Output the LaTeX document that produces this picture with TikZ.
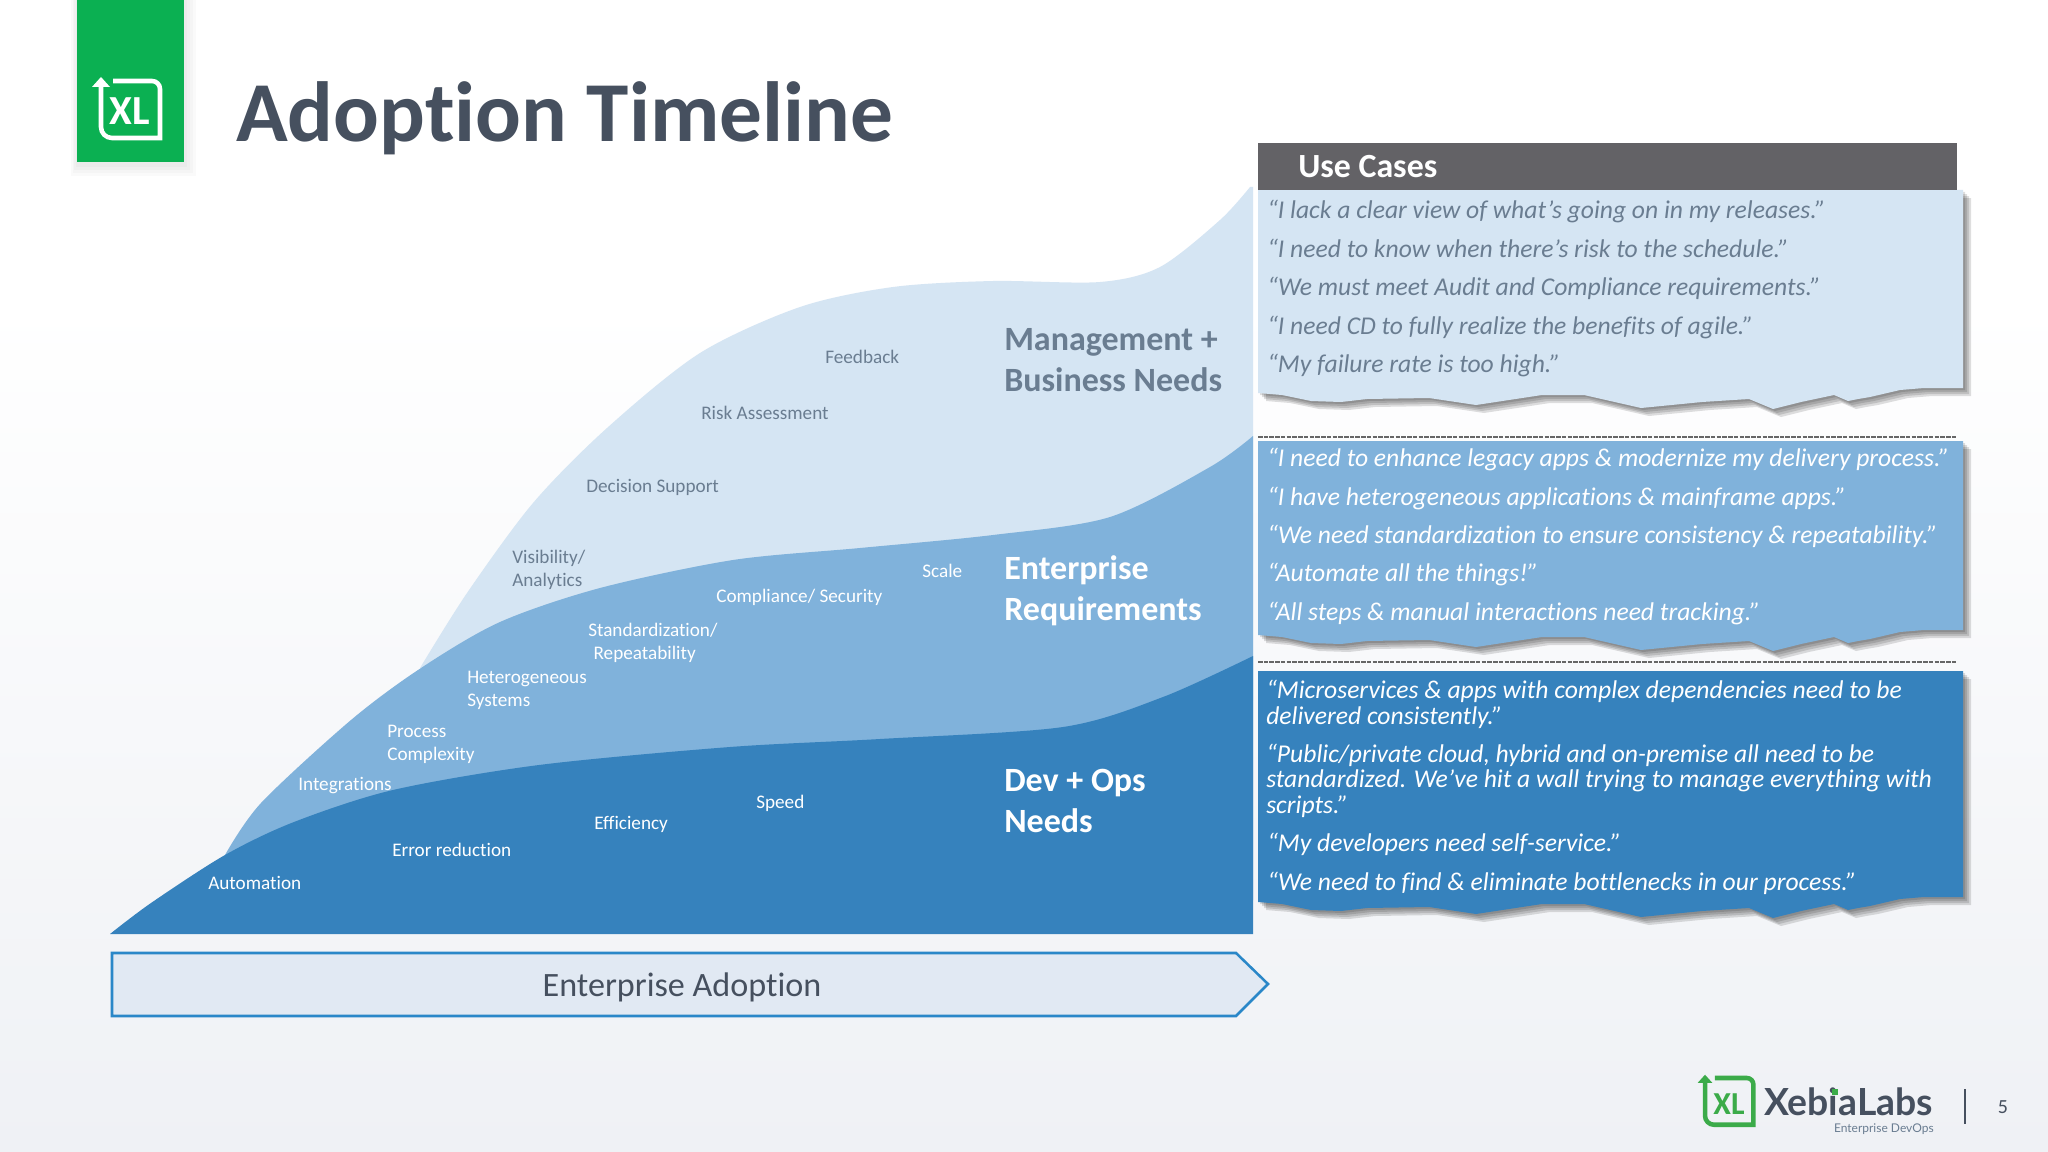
\documentclass[tikz,border=0pt]{standalone}
\usepackage{fontspec}
\setmainfont[Ligatures=NoCommon]{Carlito}
\newfontfamily\logofont{Lato}
\definecolor{lightblue}{HTML}{D5E5F3}
\definecolor{midblue}{HTML}{80B2DB}
\definecolor{darkblue}{HTML}{3682BD}
\definecolor{slatetext}{HTML}{46505F}
\definecolor{greytext}{HTML}{6A7D91}
\definecolor{headgrey}{HTML}{636266}
\definecolor{xlgreen}{HTML}{0BB052}
\definecolor{logogreen}{HTML}{3BAB49}
\definecolor{arrowfill}{HTML}{E1E9F3}
\definecolor{arrowline}{HTML}{2A87C8}
\definecolor{pagegrey}{HTML}{EFF1F5}
\tikzset{
	smalllabel/.style={anchor=base west, inner sep=0pt, align=left, yshift=-5pt, font=\fontsize{14.4}{17.3}\selectfont},
	biglabel/.style={anchor=base west, inner sep=0pt, align=left, yshift=-8.8pt, font=\fontsize{25.5}{30.6}\bfseries\selectfont},
	quote/.style={anchor=base west, inner sep=0pt, align=left, yshift=-7pt, font=\fontsize{19.2}{19.2}\itshape\selectfont},
}
% outline of a torn panel, drawn from the left end of its lower edge
\newcommand{\panelpath}[1]{(0,#1) -- (705,#1) -- (705,-5) -- (666,-5) -- (642,-3) -- (612,4) -- (600,6) -- (590,8) -- (576,2) -- (543,9) -- (515,16) -- (491,6) -- (444,9) -- (383,15) -- (326,2) -- (284,2) -- (218,12) -- (171,5) -- (109,6) -- (83,9) -- (53,8) -- (24,2) -- (0,0) -- cycle}
\newcommand{\usecasepanel}[3]{
	\begin{scope}[shift={(1258,#2)}]
		\foreach \d in {2,4,6,8}
			\fill[black, opacity=0.13, shift={(\d,\d)}] \panelpath{#1-#2};
		\fill[#3] \panelpath{#1-#2};
	\end{scope}
}
\newcommand{\xlicon}[1]{
	\draw[#1, line width=3.4pt] (113,81) -- (152,81) to[out=0, in=90] (160,89) -- (160,138) -- (112,138) to[out=180, in=-90] (101,127) -- (101,84);
	\fill[#1] (92,87) -- (101,77) -- (110,87) -- cycle;
}
\begin{document}
\begin{tikzpicture}[x=0.75pt, y=-0.75pt]
	\useasboundingbox (0,0) rectangle (2048,1152);
	% Background
	\fill[white] (0,0) rectangle (2048,300);
	\shade[top color=white, bottom color=pagegrey] (0,300) rectangle (2048,1152);

	% Logo block
	\foreach \d in {3,6,9,12}
		\fill[black, opacity=0.02] (77-\d/2,0) rectangle (184+\d,162+\d+2);
	\fill[xlgreen] (77,0) rectangle (184,162);
	\xlicon{white}
	\node[inner sep=0pt, text=white, font=\fontsize{31}{31}\bfseries\selectfont] (xlmark) at (130,111) {XL};
	\node[anchor=base west, inner sep=0pt, text=slatetext, font=\fontsize{64}{64}\bfseries\selectfont] (title) at (236,142) {Adoption Timeline};

	% Adoption curves
	\fill[lightblue] plot[smooth] coordinates {(420,668) (467,593) (533,503) (607,428) (700,353) (800,307) (893,287) (993,281) (1100,282) (1160,267) (1220,220) (1250,187)} -- (1253,187) -- (1253,700) -- cycle;
	\fill[midblue] plot[smooth] coordinates {(225,855) (261,803) (351,720) (421,668) (500,622) (600,588) (733,560) (860,548) (993,535) (1110,517) (1210,467) (1253,436)} -- (1253,900) -- cycle;
	\fill[darkblue] plot[smooth] coordinates {(110,934) (151,903) (225,855) (294,822) (393,790) (539,765) (730,747) (880,739) (1063,727) (1163,697) (1253,656)} -- (1253,934) -- cycle;

	\node[smalllabel, text=greytext] (feedback) at (825,357) {Feedback};
	\node[smalllabel, text=greytext] (risk) at (701,413) {Risk Assessment};
	\node[smalllabel, text=greytext] (decision) at (586,486) {Decision Support};
	\node[smalllabel, text=greytext] (visibility) at (512,580) {Visibility/\\Analytics};
	\node[smalllabel, text=white] (scale) at (922,571) {Scale};
	\node[smalllabel, text=white] (compliance) at (716,596) {Compliance/ Security};
	\node[smalllabel, text=white] (standard) at (588,653) {Standardization/\\\hspace*{4pt}Repeatability};
	\node[smalllabel, text=white] (hetero) at (467,700) {Heterogeneous\\Systems};
	\node[smalllabel, text=white] (process) at (387,754) {Process\\Complexity};
	\node[smalllabel, text=white] (integrations) at (298,784) {Integrations};
	\node[smalllabel, text=white] (speed) at (756,802) {Speed};
	\node[smalllabel, text=white] (efficiency) at (594,823) {Efficiency};
	\node[smalllabel, text=white] (error) at (392,850) {Error reduction};
	\node[smalllabel, text=white] (automation) at (208,883) {Automation};

	\node[biglabel, text=greytext] (management) at (1004,380) {Management +\\Business Needs};
	\node[biglabel, text=white] (enterprise) at (1004,609) {Enterprise\\Requirements};
	\node[biglabel, text=white] (devops) at (1004,821) {Dev + Ops\\Needs};

	% Adoption arrow
	\draw[fill=arrowfill, draw=arrowline, line width=1.9pt] (112,953) -- (1236,953) -- (1268,984) -- (1236,1016) -- (112,1016) -- cycle;
	\node[inner sep=0pt, text=slatetext, font=\fontsize{25.6}{30}\selectfont] (adoption) at (682,987) {Enterprise Adoption};

	% Use cases
	\draw[black!60, dashed, line width=1.9pt, dash pattern=on 3.4pt off 0.9pt] (1258,437) -- (1956,437);
	\draw[black!60, dashed, line width=1.9pt, dash pattern=on 3.4pt off 0.9pt] (1258,662) -- (1956,662);
	\usecasepanel{190}{393}{lightblue}
	\usecasepanel{441}{635}{midblue}
	\usecasepanel{671}{902}{darkblue}
	\fill[headgrey] (1258,143) rectangle (1957,190);
	\node[anchor=base west, inner sep=0pt, text=white, font=\fontsize{25.4}{25.4}\bfseries\selectfont] (usecases) at (1298,177) {Use Cases};

	\node[quote, text=greytext] (qa) at (1267,209) {“I lack a clear view of what’s going on in my releases.”};
	\node[quote, text=greytext] (qb) at (1267,248) {“I need to know when there’s risk to the schedule.”};
	\node[quote, text=greytext] (qc) at (1267,286) {“We must meet Audit and Compliance requirements.”};
	\node[quote, text=greytext] (qd) at (1267,325) {“I need CD to fully realize the benefits of agile.”};
	\node[quote, text=greytext] (qe) at (1267,363) {“My failure rate is too high.”};

	\node[quote, text=white] (qf) at (1267,457) {“I need to enhance legacy apps \& modernize my delivery process.”};
	\node[quote, text=white] (qg) at (1267,496) {“I have heterogeneous applications \& mainframe apps.”};
	\node[quote, text=white] (qh) at (1267,534) {“We need standardization to ensure consistency \& repeatability.”};
	\node[quote, text=white] (qi) at (1267,572) {“Automate all the things!”};
	\node[quote, text=white] (qj) at (1267,611) {“All steps \& manual interactions need tracking.”};

	\node[quote, text=white] (qk) at (1266,715) {“Microservices \& apps with complex dependencies need to be\\delivered consistently.”};
	\node[quote, text=white] (ql) at (1266,804) {“Public/private cloud, hybrid and on-premise all need to be\\standardized. We've hit a wall trying to manage everything with\\scripts.”};
	\node[quote, text=white] (qm) at (1267,842) {“My developers need self-service.”};
	\node[quote, text=white] (qn) at (1267,881) {“We need to find \& eliminate bottlenecks in our process.”};

	% Footer logo
	\begin{scope}[shift={(1705-101*0.82,1078-81*0.82)}, scale=0.82]
		\xlicon{logogreen}
	\end{scope}
	\node[inner sep=0pt, text=logogreen, font=\fontsize{24}{24}\bfseries\selectfont] (xlfoot) at (1729,1104) {XL};
	\node[anchor=base west, inner sep=0pt, text=slatetext, font=\logofont\bfseries\fontsize{28}{28}\selectfont] (xebia) at (1764,1115) {XebiaLabs};
	\fill[logogreen] (1832,1089) rectangle (1838,1095);
	\node[anchor=base east, inner sep=0pt, text=greytext, font=\logofont\fontsize{9}{10}\selectfont] (tagline) at (1934,1132) {Enterprise DevOps};
	\draw[slatetext, line width=0.8pt] (1965,1089) -- (1965,1124);
	\node[inner sep=0pt, text=slatetext, font=\fontsize{15}{18}\selectfont] (pagenum) at (2003,1107) {5};
\end{tikzpicture}
\end{document}
